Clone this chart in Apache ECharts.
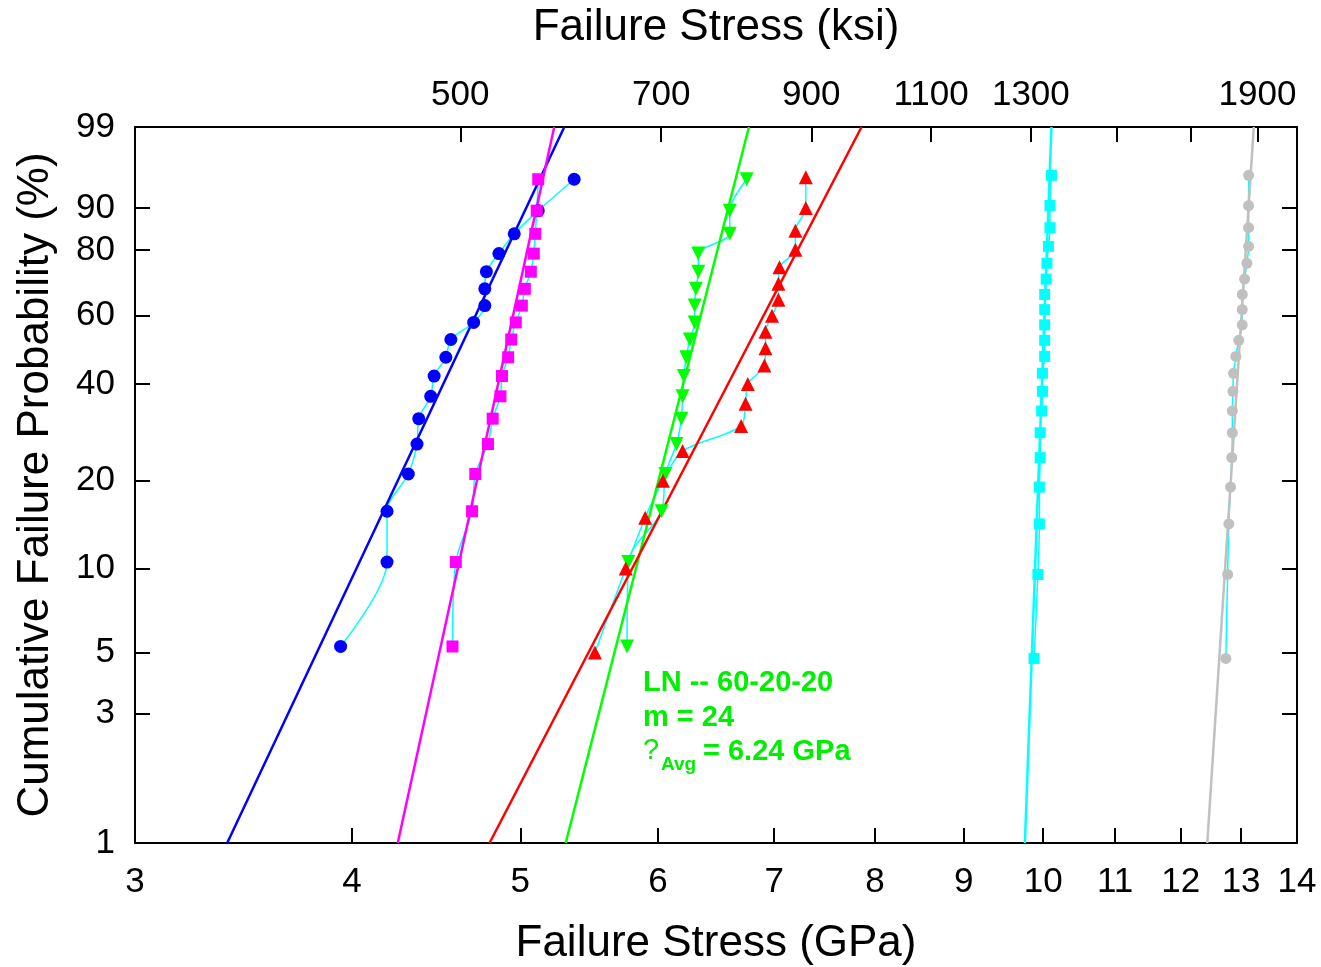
<!DOCTYPE html>
<html>
<head>
<meta charset="utf-8">
<script src="https://cdn.jsdelivr.net/npm/echarts@6/dist/echarts.min.js"></script>
<style>
  html, body { margin: 0; padding: 0; background: #fff; }
  #main { width: 1321px; height: 967px; }
</style>
</head>
<body>
<div id="main"></div>
<script>
// tick values
const gpaTicks = [3, 4, 5, 6, 7, 8, 9, 10, 11, 12, 13, 14]
const ksiTicks = [500, 700, 900, 1100, 1300, 1500, 1700, 1900]
const ksiLabels = [500, 700, 900, 1100, 1300, 1900]
const probTicks = [1, 3, 5, 10, 20, 40, 60, 80, 90, 99]

// plotting positions (%) for the sample sizes
const prob18 = [5.26, 10.53, 15.79, 21.05, 26.32, 31.58, 36.84, 42.11, 47.37, 52.63, 57.89, 63.16, 68.42, 73.68, 78.95, 84.21, 89.47, 94.74]
const prob19 = [5, 10, 15, 20, 25, 30, 35, 40, 45, 50, 55, 60, 65, 70, 75, 80, 85, 90, 95]
const prob20 = [4.76, 9.52, 14.29, 19.05, 23.81, 28.57, 33.33, 38.1, 42.86, 47.62, 52.38, 57.14, 61.9, 66.67, 71.43, 76.19, 80.95, 85.71, 90.48, 95.24]

// failure stress (GPa), sorted
const blueStress = [3.94, 4.19, 4.19, 4.31, 4.36, 4.37, 4.44, 4.46, 4.53, 4.56, 4.70, 4.77, 4.77, 4.78, 4.86, 4.96, 5.12, 5.37]
const magentaStress = [4.57, 4.59, 4.69, 4.71, 4.79, 4.82, 4.87, 4.88, 4.92, 4.94, 4.97, 5.01, 5.03, 5.07, 5.09, 5.10, 5.11, 5.12]
const greenStress = [5.76, 5.77, 6.03, 6.06, 6.15, 6.19, 6.20, 6.21, 6.23, 6.26, 6.30, 6.30, 6.31, 6.33, 6.33, 6.60, 6.60, 6.75]
const redStress = [5.52, 5.75, 5.90, 6.04, 6.20, 6.70, 6.74, 6.76, 6.91, 6.92, 6.92, 6.98, 7.04, 7.04, 7.05, 7.20, 7.20, 7.30, 7.30]
const cyanStress = [9.88, 9.93, 9.95, 9.95, 9.96, 9.96, 9.98, 9.99, 9.99, 10.02, 10.02, 10.02, 10.02, 10.02, 10.04, 10.05, 10.07, 10.09, 10.09, 10.11]
const grayStress = [12.74, 12.77, 12.79, 12.82, 12.84, 12.85, 12.85, 12.86, 12.87, 12.91, 12.96, 13.02, 13.02, 13.02, 13.06, 13.10, 13.13, 13.13, 13.13, 13.13]

// Weibull fit lines: stress at 1% and at 99%
const fitNames = ['blue', 'magenta', 'green', 'red', 'cyan', 'gray']
const fitAt1 = [3.39, 4.25, 5.31, 4.80, 9.76, 12.43]
const fitAt99 = [5.30, 5.23, 6.77, 7.86, 10.11, 13.22]

const colors = { blue: '#0000ff', magenta: '#ff00ff', green: '#00ff00', red: '#ff0000', cyan: '#00ffff', gray: '#c0c0c0' }
const font = "'Liberation Sans', Arial, sans-serif"
const textGreen = '#00ee00'

const weib = p => Math.log(-Math.log(1 - p / 100))
const lnx = v => Math.log(v)

const groups = [
    { name: 'blue', stress: blueStress, prob: prob18, symbol: 'circle', size: 13, rot: 0 },
    { name: 'magenta', stress: magentaStress, prob: prob18, symbol: 'rect', size: 12, rot: 0 },
    { name: 'green', stress: greenStress, prob: prob18, symbol: 'triangle', size: 14, rot: 180 },
    { name: 'red', stress: redStress, prob: prob19, symbol: 'triangle', size: 14, rot: 0 },
    { name: 'cyan', stress: cyanStress, prob: prob20, symbol: 'rect', size: 11, rot: 0 },
    { name: 'gray', stress: grayStress, prob: prob20, symbol: 'circle', size: 11, rot: 0 },
]

let series = []

// thin cyan lines joining the points of each set
groups.forEach(g => {
    series.push({
        type: 'line',
        data: g.stress.map((s, i) => [lnx(s), weib(g.prob[i])]),
        showSymbol: false,
        smooth: 0.3,
        lineStyle: { color: colors.cyan, width: 1.5 },
        z: 2,
        silent: true
    })
})

// fit lines
fitNames.forEach((n, i) => {
    series.push({
        type: 'line',
        data: [[lnx(fitAt1[i]), weib(1)], [lnx(fitAt99[i]), weib(99)]],
        showSymbol: false,
        lineStyle: { color: colors[n], width: 2.5 },
        z: 3,
        silent: true
    })
})

// markers
groups.forEach(g => {
    series.push({
        type: 'scatter',
        data: g.stress.map((s, i) => [lnx(s), weib(g.prob[i])]),
        symbol: g.symbol,
        symbolSize: g.size,
        symbolRotate: g.rot,
        itemStyle: { color: colors[g.name], opacity: 1 },
        z: 4
    })
})

const axisLineStyle = { color: '#000', width: 2 }
const tickStyle = { color: '#000', width: 2 }

var myChart = echarts.init(document.getElementById('main'))
var option = {
    animation: false,
    backgroundColor: '#fff',
    grid: { left: 135, right: 24, top: 127, bottom: 124 },
    xAxis: [
        {
            type: 'value',
            position: 'bottom',
            min: lnx(3),
            max: lnx(14),
            axisLine: { show: true, onZero: false, lineStyle: axisLineStyle },
            axisTick: { show: true, inside: true, length: 15, lineStyle: tickStyle, customValues: gpaTicks.map(lnx) },
            axisLabel: {
                show: true, margin: 22, color: '#000', fontSize: 35, fontFamily: font,
                customValues: gpaTicks.map(lnx),
                formatter: v => String(Math.round(Math.exp(v)))
            },
            splitLine: { show: false }
        },
        {
            type: 'value',
            position: 'top',
            min: lnx(290),
            max: lnx(2030),
            axisLine: { show: true, onZero: false, lineStyle: axisLineStyle },
            axisTick: { show: true, inside: true, length: 15, lineStyle: tickStyle, customValues: ksiTicks.map(lnx) },
            axisLabel: {
                show: true, margin: 14, color: '#000', fontSize: 35, fontFamily: font,
                customValues: ksiLabels.map(lnx),
                formatter: v => String(Math.round(Math.exp(v)))
            },
            splitLine: { show: false }
        }
    ],
    yAxis: [
        {
            type: 'value',
            position: 'left',
            min: weib(1),
            max: weib(99),
            axisLine: { show: true, onZero: false, lineStyle: axisLineStyle },
            axisTick: { show: true, inside: true, length: 15, lineStyle: tickStyle, customValues: probTicks.map(weib) },
            axisLabel: {
                show: true, margin: 20, color: '#000', fontSize: 35, fontFamily: font,
                customValues: probTicks.map(weib),
                formatter: v => String(Math.round(100 * (1 - Math.exp(-Math.exp(v)))))
            },
            splitLine: { show: false }
        },
        {
            type: 'value',
            position: 'right',
            min: weib(1),
            max: weib(99),
            axisLine: { show: true, onZero: false, lineStyle: axisLineStyle },
            axisTick: { show: true, inside: true, length: 15, lineStyle: tickStyle, customValues: probTicks.map(weib) },
            axisLabel: { show: false },
            splitLine: { show: false }
        }
    ],
    series,
    graphic: [
        {
            type: 'text', x: 716, y: 28,
            style: { text: 'Failure Stress (ksi)', fill: '#000', font: '44px ' + font, align: 'center', verticalAlign: 'middle' }
        },
        {
            type: 'text', x: 716, y: 944,
            style: { text: 'Failure Stress (GPa)', fill: '#000', font: '44px ' + font, align: 'center', verticalAlign: 'middle' }
        },
        {
            type: 'text', x: 36, y: 485, rotation: Math.PI / 2,
            style: { text: 'Cumulative Failure Probability (%)', fill: '#000', font: '44px ' + font, align: 'center', verticalAlign: 'middle' }
        },
        {
            type: 'text', x: 643, y: 683,
            style: { text: 'LN -- 60-20-20', fill: textGreen, font: 'bold 29px ' + font, verticalAlign: 'middle' }
        },
        {
            type: 'text', x: 643, y: 718,
            style: { text: 'm = 24', fill: textGreen, font: 'bold 29px ' + font, verticalAlign: 'middle' }
        },
        {
            type: 'text', x: 643, y: 751,
            style: { text: '?', fill: textGreen, font: '29px ' + font, verticalAlign: 'middle' }
        },
        {
            type: 'text', x: 661, y: 765,
            style: { text: 'Avg', fill: textGreen, font: 'bold 19px ' + font, verticalAlign: 'middle' }
        },
        {
            type: 'text', x: 703, y: 752,
            style: { text: '= 6.24 GPa', fill: textGreen, font: 'bold 29px ' + font, verticalAlign: 'middle' }
        }
    ]
}
myChart.setOption(option)
</script>
</body>
</html>
